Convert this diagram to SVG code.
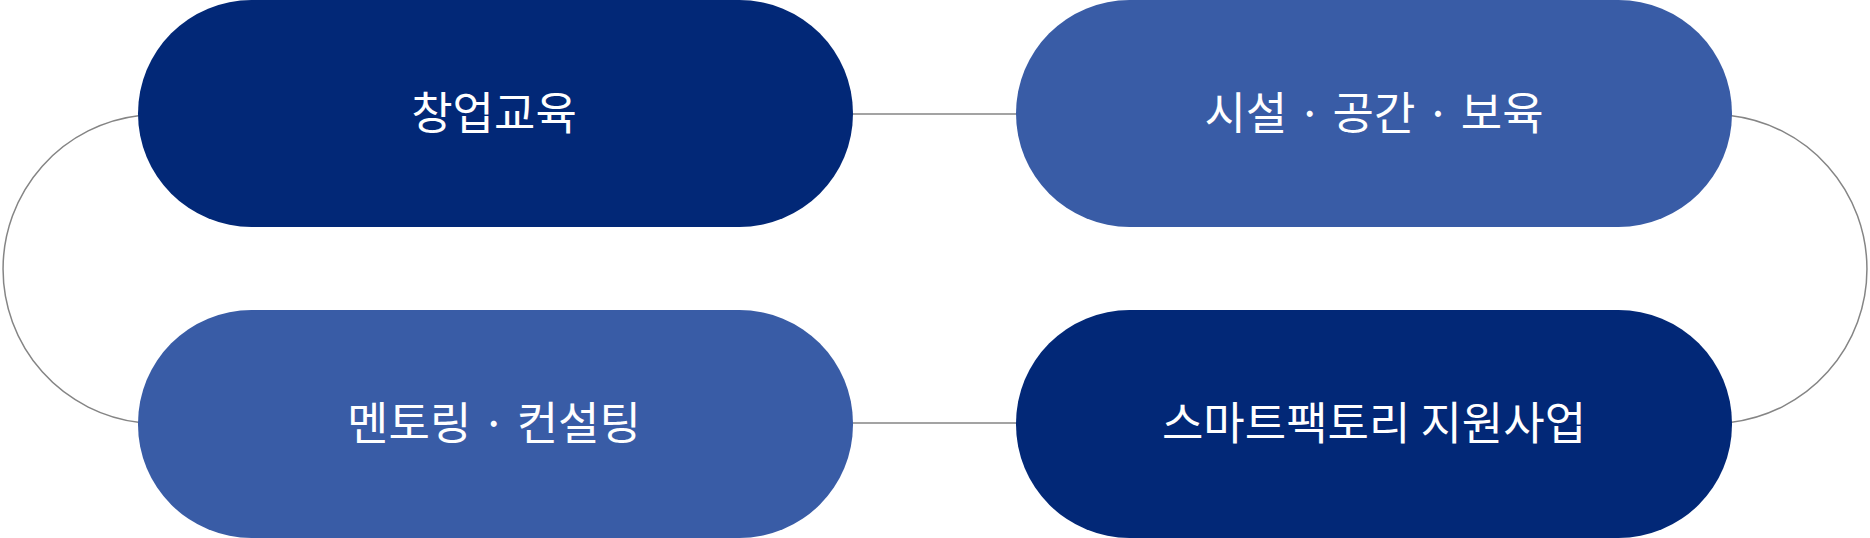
<svg xmlns="http://www.w3.org/2000/svg" width="1870" height="538" viewBox="0 0 1870 538">
<style>
.dark{fill:#022877}
.light{fill:#395ca6}
.lbl{fill:#ffffff;font-family:"Noto Sans CJK KR","Noto Sans",sans-serif;font-size:45px;text-anchor:middle}
.con{fill:none;stroke:#858585;stroke-width:1.5}
</style>
<rect width="1870" height="538" fill="#ffffff"/>
<g id="connectors">
<line class="con" x1="850" y1="114" x2="1020" y2="114"/>
<line class="con" x1="850" y1="423" x2="1020" y2="423"/>
<path class="con" d="M140,115.5 A154.5,154.5 0 0 0 140,422.5"/>
<path class="con" d="M1730,115.5 A154.5,154.5 0 0 1 1730,422.5"/>
</g>
<g id="node-startup-edu">
<rect class="dark" x="138" y="0" width="715" height="227" rx="113.5"/>
<text class="lbl" x="494" y="130">창업교육</text>
</g>
<g id="node-facility">
<rect class="light" x="1016" y="0" width="716" height="227" rx="113.5"/>
<text class="lbl" x="1374" y="130">시설 · 공간 · 보육</text>
</g>
<g id="node-mentoring">
<rect class="light" x="138" y="310" width="715" height="228" rx="113.5"/>
<text class="lbl" x="494" y="440">멘토링 · 컨설팅</text>
</g>
<g id="node-smartfactory">
<rect class="dark" x="1016" y="310" width="716" height="228" rx="113.5"/>
<text class="lbl" x="1374" y="440">스마트팩토리 지원사업</text>
</g>
</svg>
